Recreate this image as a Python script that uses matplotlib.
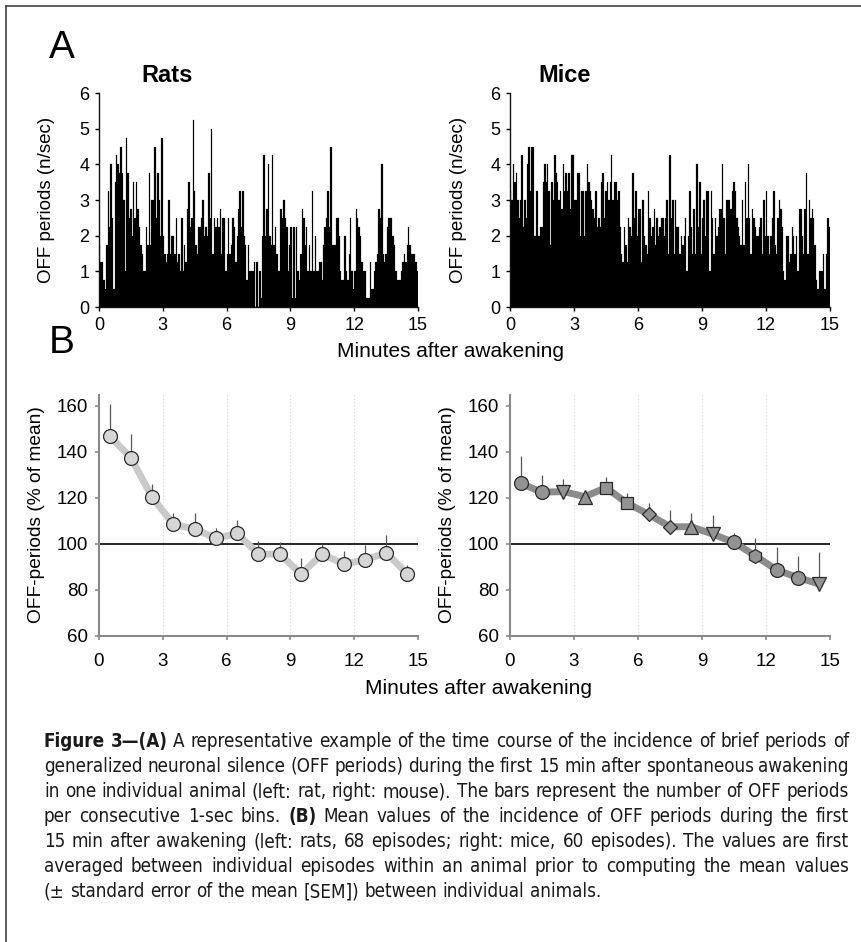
import numpy as np
import matplotlib
matplotlib.use('Agg')
import matplotlib.pyplot as plt
from matplotlib import font_manager
from matplotlib.lines import Line2D

# ---- data ----
# panel A: OFF periods per second, consecutive short bins over the first 15 min
rats_rate = [
    1.75, 1.25, 1.25, 0.75, 0.5, 1.75, 3.25, 2.25, 4.0, 2.5, 0.5, 3.5, 4.25, 4.0, 3.75,
    4.5, 3.75, 3.0, 1.0, 4.75, 3.75, 2.5, 2.75, 2.0, 3.5, 2.5, 3.5, 2.75, 2.25, 1.75,
    1.5, 1.0, 1.0, 2.25, 1.75, 3.75, 1.75, 3.0, 3.0, 4.5, 2.5, 3.75, 3.0, 2.0, 4.75,
    2.0, 1.5, 1.25, 1.5, 3.0, 1.5, 2.0, 2.0, 1.5, 2.5, 1.25, 1.5, 1.0, 2.5, 1.0,
    1.75, 1.25, 2.75, 3.5, 2.25, 2.5, 5.25, 3.25, 1.75, 1.5, 2.25, 2.25, 2.5, 3.0, 2.0,
    2.25, 2.0, 3.75, 2.5, 5.0, 1.5, 2.5, 2.25, 2.5, 2.25, 2.75, 1.5, 2.5, 2.5, 1.0,
    1.5, 2.5, 1.5, 1.75, 2.5, 2.25, 1.25, 2.0, 2.75, 3.25, 2.25, 3.25, 2.0, 1.75, 0.75,
    1.75, 1.0, 1.0, 1.0, 1.25, 0.0, 1.25, 0.0, 1.0, 0.25, 2.0, 4.25, 2.0, 2.75, 4.0,
    2.0, 1.75, 4.25, 1.75, 2.25, 1.5, 1.0, 1.0, 2.75, 2.5, 3.0, 2.5, 2.25, 1.0, 1.75,
    2.25, 0.25, 2.25, 0.25, 2.25, 1.0, 0.75, 1.5, 2.75, 2.5, 1.75, 2.25, 1.0, 1.75, 1.0,
    3.25, 1.0, 2.0, 1.0, 1.0, 1.25, 1.25, 0.75, 1.75, 2.25, 2.5, 3.25, 2.25, 4.5, 1.75,
    1.75, 1.75, 2.5, 2.5, 2.0, 1.0, 0.75, 0.75, 2.0, 1.0, 0.75, 1.5, 2.5, 1.0, 0.5,
    1.0, 2.75, 2.5, 2.25, 2.0, 1.25, 1.0, 1.0, 0.25, 0.25, 0.25, 1.25, 0.5, 0.5, 1.0,
    1.25, 1.5, 2.75, 2.5, 4.0, 1.5, 1.25, 1.5, 2.25, 2.5, 2.5, 2.5, 2.0, 1.75, 1.0,
    0.75, 0.75, 0.75, 1.0, 1.25, 1.5, 1.25, 1.75, 2.25, 1.75, 1.5, 1.5, 1.5, 1.25, 1.0,
]
mice_rate = [
    3.25, 3.0, 4.0, 3.5, 3.75, 3.0, 2.5, 3.0, 4.25, 2.25, 3.0, 2.5, 4.0, 4.5, 3.25,
    4.5, 4.5, 2.0, 3.25, 3.25, 2.0, 2.25, 2.25, 3.5, 4.0, 3.5, 4.0, 3.25, 1.75, 3.5,
    3.0, 4.25, 3.75, 3.5, 3.0, 3.25, 2.75, 4.0, 3.25, 3.75, 3.25, 3.75, 2.75, 4.25, 4.25,
    3.0, 3.0, 3.75, 3.75, 2.0, 3.25, 3.25, 2.0, 3.25, 4.0, 3.5, 3.25, 3.0, 2.75, 2.5,
    3.25, 2.25, 2.5, 2.25, 3.5, 3.75, 2.5, 3.25, 3.5, 3.0, 3.5, 4.25, 3.0, 3.5, 3.5,
    3.0, 3.25, 2.25, 1.5, 1.25, 2.25, 1.75, 1.25, 2.5, 2.25, 2.0, 3.75, 2.5, 3.25, 2.0,
    2.75, 2.75, 1.25, 3.0, 2.0, 1.75, 1.5, 3.25, 2.5, 2.0, 2.25, 2.75, 1.75, 2.5, 2.0,
    2.25, 2.5, 2.5, 2.0, 2.5, 3.0, 1.5, 4.25, 2.5, 3.0, 1.5, 3.0, 2.25, 2.25, 1.5,
    2.0, 1.75, 2.0, 2.5, 1.0, 2.0, 3.25, 2.25, 1.5, 2.75, 1.5, 4.0, 2.25, 3.5, 1.5,
    2.5, 3.0, 2.0, 3.25, 3.25, 1.0, 3.25, 2.5, 1.5, 2.5, 2.0, 2.25, 2.75, 2.75, 4.0,
    2.5, 1.5, 3.0, 3.0, 3.0, 2.75, 3.25, 3.5, 3.25, 2.5, 2.25, 2.0, 1.75, 3.0, 1.75,
    3.5, 2.5, 4.0, 2.5, 1.5, 2.75, 2.5, 2.25, 2.0, 2.0, 2.25, 2.5, 1.5, 3.0, 2.0,
    3.25, 2.0, 1.5, 2.0, 2.5, 3.25, 1.75, 1.5, 2.5, 3.0, 2.75, 2.25, 1.0, 0.75, 2.0,
    2.0, 1.25, 1.5, 2.25, 2.0, 1.5, 2.0, 1.0, 2.75, 2.75, 2.0, 1.5, 2.75, 3.75, 1.5,
    3.0, 2.5, 2.75, 2.5, 1.75, 0.75, 0.5, 1.0, 1.0, 1.0, 1.5, 0.5, 1.5, 2.5, 2.25,
]

# panel B: % of mean per 1-min bin, with SEM (upper whisker only)
minute_bins = [0.5, 1.5, 2.5, 3.5, 4.5, 5.5, 6.5, 7.5, 8.5, 9.5, 10.5, 11.5, 12.5, 13.5, 14.5]
rats_pct = [147.0, 137.5, 120.3, 108.6, 106.5, 102.5, 104.6, 95.6, 95.6, 87.0, 95.6, 91.3, 93.0, 96.2, 87.0]
rats_sem = [14.0, 10.3, 5.8, 5.0, 6.8, 4.3, 6.0, 5.8, 5.3, 7.1, 4.6, 5.8, 6.5, 7.7, 3.9]
mice_pct = [126.4, 122.5, 122.8, 120.6, 124.5, 117.7, 112.9, 107.5, 107.5, 104.3, 100.7, 94.9, 88.7, 85.4, 82.6]
mice_sem = [11.9, 7.5, 5.3, 1.5, 4.8, 4.3, 4.8, 7.5, 5.8, 8.3, 4.3, 7.6, 10.1, 9.5, 13.8]
mice_markers = ['o', 'o', 'v', '^', 's', 's', 'D', 'D', '^', 'v', 'o', 'h', 'o', 'o', 'v']

minute_ticks = [0, 3, 6, 9, 12, 15]
rate_ticks = [0, 1, 2, 3, 4, 5, 6]
pct_ticks = [60, 80, 100, 120, 140, 160]

caption_lines = [
    "*Figure 3—(A)* A representative example of the time course of the incidence of brief periods of",
    "generalized neuronal silence (OFF periods) during the first 15 min after spontaneous awakening",
    "in one individual animal (left: rat, right: mouse). The bars represent the number of OFF periods",
    "per consecutive 1-sec bins. *(B)* Mean values of the incidence of OFF periods during the first",
    "15 min after awakening (left: rats, 68 episodes; right: mice, 60 episodes). The values are first",
    "averaged between individual episodes within an animal prior to computing the mean values",
    "(± standard error of the mean [SEM]) between individual animals.",
]

W, H = 862, 942
plt.rcParams['font.family'] = ['Liberation Sans', 'DejaVu Sans']
fig = plt.figure(figsize=(W / 100, H / 100), dpi=100)


def box(x0, y0, x1, y1):
    # pixel box (top-left origin) -> figure fraction rect
    return [x0 / W, 1 - y1 / H, (x1 - x0) / W, (y1 - y0) / H]


def pt(x, y):
    return x / W, 1 - y / H


# frame
fig.add_artist(Line2D([6 / W, 6 / W], [0, 1 - 6 / H], color='#333333', lw=1.1))
fig.add_artist(Line2D([6 / W, 1], [1 - 6 / H, 1 - 6 / H], color='#333333', lw=1.1))

# ---- panel A ----
for left, right, data, title, tx, lx in [(99, 418, rats_rate, 'Rats', 167, 47),
                                         (510, 830, mice_rate, 'Mice', 565, 459)]:
    ax = fig.add_axes(box(left, 93, right, 307))
    n = len(data)
    w = 15 / n
    ax.bar(np.arange(n) * w, data, width=w, align='edge', color='black',
           edgecolor='black', linewidth=0.15)
    ax.set_xlim(0, 15)
    ax.set_ylim(0, 6)
    ax.set_xticks(minute_ticks)
    ax.set_yticks(rate_ticks)
    for s in ['top', 'right']:
        ax.spines[s].set_visible(False)
    for s in ['left', 'bottom']:
        ax.spines[s].set_color('#111111')
        ax.spines[s].set_linewidth(1.0)
    ax.tick_params(direction='out', length=3, width=1, labelsize=13, pad=4)
    fig.text(*pt(tx, 76), title, fontsize=17, fontweight='bold', ha='center', va='center')
    fig.text(*pt(lx, 200), 'OFF periods (n/sec)', fontsize=13.5, rotation=90,
             ha='center', va='center')

fig.text(*pt(49, 58), 'A', fontsize=28, ha='left', va='baseline')
fig.text(*pt(49, 353), 'B', fontsize=28, ha='left', va='baseline')
fig.text(*pt(451, 352), 'Minutes after awakening', fontsize=15, ha='center', va='center')

# ---- panel B ----
for left, right, pct, sem, lx, kind in [(99, 418, rats_pct, rats_sem, 37, 'rats'),
                                        (510, 830, mice_pct, mice_sem, 448, 'mice')]:
    ax = fig.add_axes(box(left, 394.5, right, 636))
    ax.set_xlim(0, 15)
    ax.set_ylim(60, 165)
    ax.set_xticks(minute_ticks)
    ax.set_yticks(pct_ticks)
    for xv in minute_ticks[1:-1]:
        ax.axvline(xv, color='#d9d9d9', lw=0.8, ls=(0, (1, 2)), zorder=0)
    ax.axhline(100, color='black', lw=1.2, zorder=1)
    line_c = '#cacaca' if kind == 'rats' else '#8c8c8c'
    face_c = '#d6d6d6' if kind == 'rats' else '#939393'
    ax.plot(minute_bins, pct, color=line_c, lw=5, solid_joinstyle='round',
            solid_capstyle='round', zorder=2)
    ax.errorbar(minute_bins, pct, yerr=[np.zeros(len(sem)), sem], fmt='none',
                ecolor='#555555', elinewidth=0.9, capsize=0, zorder=3)
    markers = ['o'] * len(pct) if kind == 'rats' else mice_markers
    for xv, yv, m in zip(minute_bins, pct, markers):
        size = {'o': 10, 'v': 10, '^': 10, 's': 8.5, 'D': 7.5, 'h': 10}[m]
        ax.plot(xv, yv, marker=m, ms=size, mfc=face_c, mec='#2a2a2a', mew=0.9,
                ls='none', zorder=4)
    for s in ['top', 'right']:
        ax.spines[s].set_visible(False)
    for s in ['left', 'bottom']:
        ax.spines[s].set_color('#8a8a8a')
        ax.spines[s].set_linewidth(1.5)
    ax.tick_params(direction='out', length=3, width=1.2, color='#8a8a8a',
                   labelsize=13.5, pad=5)
    ax.tick_params(axis='x', pad=9)
    fig.text(*pt(lx, 515), 'OFF-periods (% of mean)', fontsize=13.8, rotation=90,
             ha='center', va='center')

fig.text(*pt(479, 689), 'Minutes after awakening', fontsize=15, ha='center', va='center')

# ---- caption, justified ----
names = {f.name for f in font_manager.fontManager.ttflist}
if 'Liberation Sans Narrow' in names:
    cap_font, cap_stretch = 'Liberation Sans Narrow', 'normal'
else:
    cap_font, cap_stretch = 'DejaVu Sans', 'condensed'
cap_size = 13.5
renderer = fig.canvas.get_renderer()


def cap_text(s, bold):
    return fig.text(0, 0, s, fontsize=cap_size, family=cap_font, fontstretch=cap_stretch,
                    fontweight='bold' if bold else 'normal', color='#1a1a1a', va='baseline')


t1, t2 = cap_text('a a', False), cap_text('aa', False)
space_w = t1.get_window_extent(renderer).width - t2.get_window_extent(renderer).width
t1.remove()
t2.remove()

cap_left, cap_right = 44, 849
bold = False
for i, line in enumerate(caption_lines):
    ybase = 1 - (747 + 25 * i) / H
    words = []
    for word in line.split(' '):
        pieces = []
        for j, p in enumerate(word.split('*')):
            if j > 0:
                bold = not bold
            if p:
                pieces.append((p, bold))
        arts = [cap_text(p, b) for p, b in pieces]
        widths = [a.get_window_extent(renderer).width for a in arts]
        words.append((arts, widths))
    total = sum(sum(ws) for _, ws in words)
    if i < len(caption_lines) - 1:
        gap = (cap_right - cap_left - total) / (len(words) - 1)
    else:
        gap = space_w
    x = cap_left
    for arts, ws in words:
        for a, wd in zip(arts, ws):
            a.set_position((x / W, ybase))
            x += wd
        x += gap

fig.savefig('out.png', dpi=100)
